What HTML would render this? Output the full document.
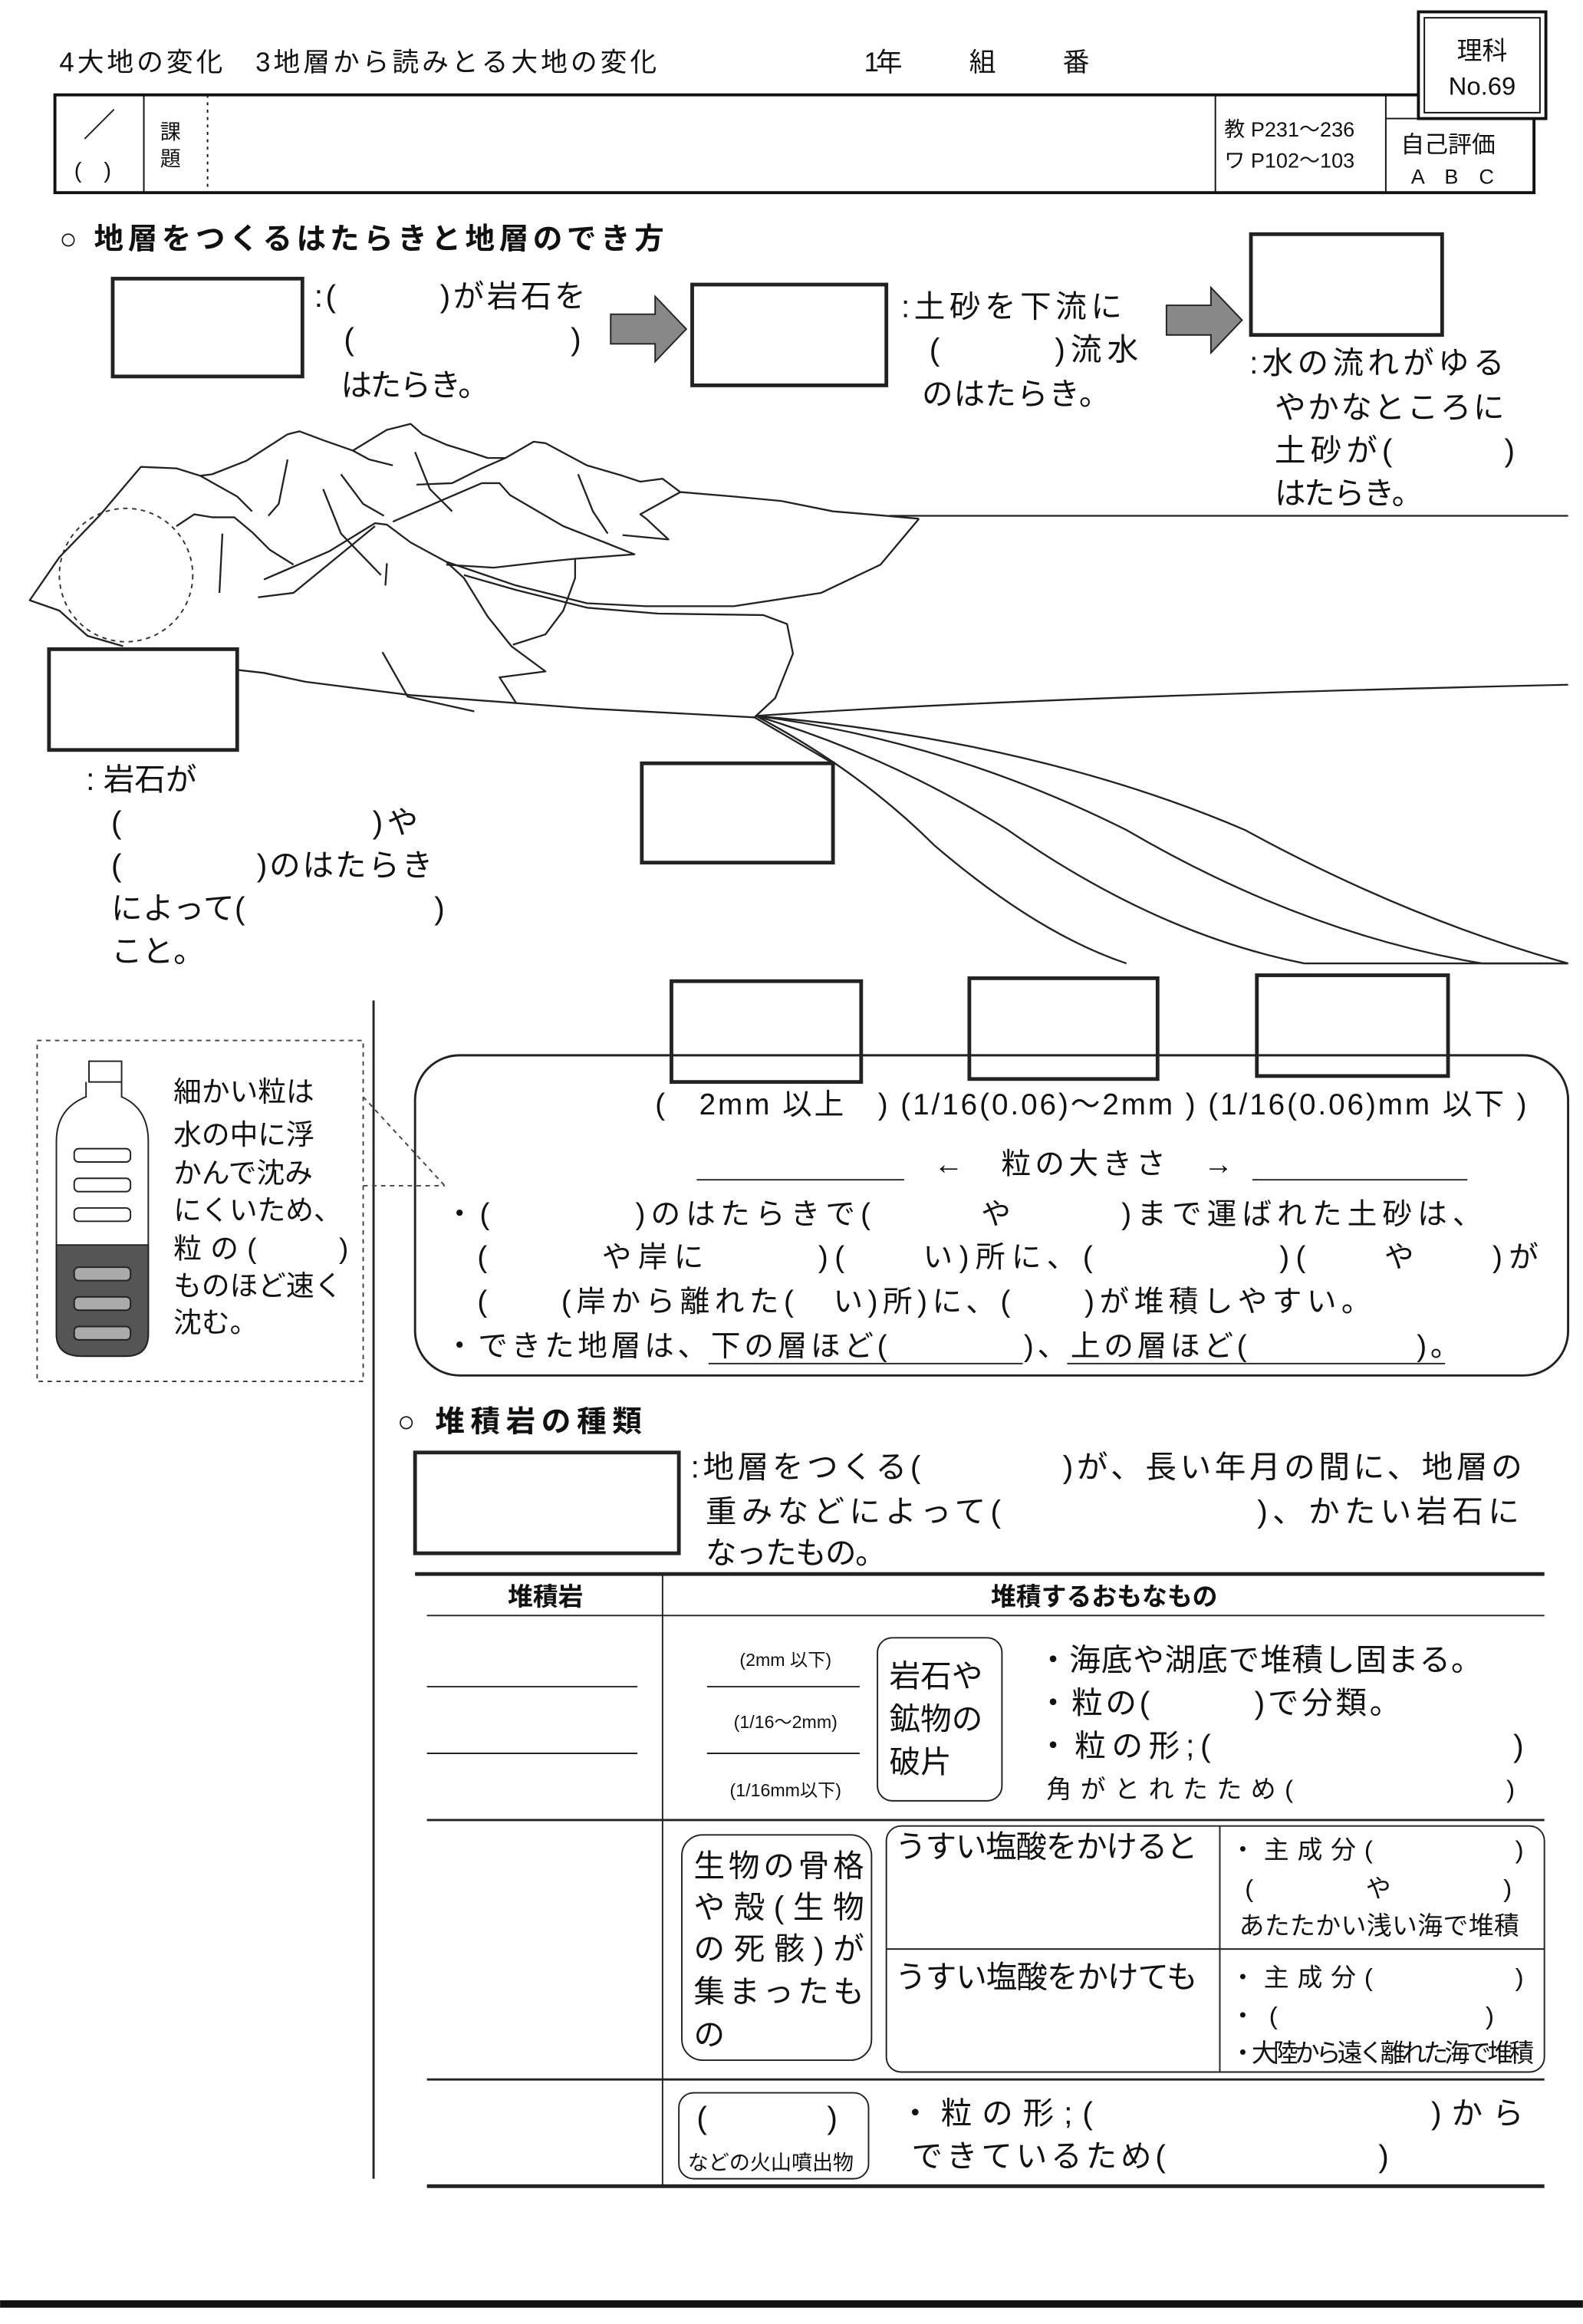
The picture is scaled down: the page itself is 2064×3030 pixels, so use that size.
<!DOCTYPE html>
<html><head><meta charset="utf-8"><style>
html,body{margin:0;padding:0;background:#fff}
svg{display:block}
text{font-family:"Liberation Sans","Noto Sans CJK JP",sans-serif;fill:#111}
</style></head><body>
<svg width="2064" height="3030" viewBox="0 0 1068 1568" xmlns="http://www.w3.org/2000/svg">
<rect width="1068" height="1568" fill="#fff"/>
<g font-size="18">
<text x="40" y="48" textLength="403" lengthAdjust="spacing">4大地の変化　3地層から読みとる大地の変化</text>
<text x="583" y="48" textLength="152" lengthAdjust="spacing">1年　　　組　　　番</text>
</g>
<rect x="957" y="8" width="86" height="72" fill="#fff" stroke="#111" stroke-width="2"/>
<rect x="961" y="12" width="78" height="64" fill="none" stroke="#111" stroke-width="1"/>
<text x="1000" y="40" font-size="17" text-anchor="middle" font-family="Liberation Serif,Noto Serif CJK SC,serif">理科</text>
<text x="1000" y="64" font-size="17" text-anchor="middle" font-family="Liberation Serif,Noto Serif CJK SC,serif">No.69</text>
<g stroke="#111" fill="none">
<path d="M957 64 H37 V130 H1035 V80" stroke-width="2"/>
<line x1="97" y1="64" x2="97" y2="130"/>
<line x1="140" y1="64" x2="140" y2="130" stroke-dasharray="2,3"/>
<line x1="820" y1="64" x2="820" y2="130"/>
<line x1="935" y1="64" x2="935" y2="130"/>
<line x1="935" y1="80" x2="957" y2="80"/>
</g>
<text x="56" y="92" font-size="22">／</text>
<text x="50" y="120" font-size="15">(　)</text>
<text x="108" y="94" font-size="14">課</text>
<text x="108" y="112" font-size="14">題</text>
<text x="826" y="92" font-size="14">教 P231〜236</text>
<text x="826" y="113" font-size="14">ワ P102〜103</text>
<text x="945" y="103" font-size="16">自己評価</text>
<text x="952" y="124" font-size="14">A　B　C</text>

<text x="40" y="168" font-size="20" font-weight="bold" textLength="408" lengthAdjust="spacing">○ 地層をつくるはたらきと地層のでき方</text>
<g stroke="#222" stroke-width="2.5" fill="#fff">
<rect x="76" y="188" width="128" height="66"/>
<rect x="467" y="192" width="131" height="68"/>
<rect x="844" y="158" width="129" height="68"/>
<rect x="33" y="438" width="127" height="68"/>
<rect x="433" y="515" width="129" height="67"/>
<rect x="453" y="662" width="128" height="68"/>
<rect x="654" y="660" width="127" height="68"/>
<rect x="848" y="658" width="129" height="68"/>
<rect x="280" y="980" width="178" height="68"/>
</g>
<g fill="#888" stroke="#222" stroke-width="1">
<path d="M412 212 H442 V200 L463 222 L442 244 V232 H412 Z"/>
<path d="M787 206 H817 V194 L838 216 L817 238 V226 H787 Z"/>
</g>
<g font-size="21">
<text x="212" y="207" textLength="183" lengthAdjust="spacing">:(　　　)が岩石を</text>
<text x="232" y="236" textLength="160" lengthAdjust="spacing">(　　　　　　　)</text>
<text x="230" y="267" textLength="100" lengthAdjust="spacing">はたらき。</text>
<text x="608" y="214" textLength="149" lengthAdjust="spacing">:土砂を下流に</text>
<text x="627" y="243" textLength="141" lengthAdjust="spacing">(　　　)流水</text>
<text x="622" y="273" textLength="127" lengthAdjust="spacing">のはたらき。</text>
<text x="843" y="252" textLength="172" lengthAdjust="spacing">:水の流れがゆる</text>
<text x="860" y="282" textLength="155" lengthAdjust="spacing">やかなところに</text>
<text x="860" y="311" textLength="162" lengthAdjust="spacing">土砂が(　　　)</text>
<text x="860" y="340" textLength="100" lengthAdjust="spacing">はたらき。</text>
<text x="58" y="533">: 岩石が</text>
<text x="75" y="562" textLength="207" lengthAdjust="spacing">(　　　　　　　)や</text>
<text x="75" y="591" textLength="217" lengthAdjust="spacing">(　　　　)のはたらき</text>
<text x="75" y="620" textLength="225" lengthAdjust="spacing">によって(　　　　　　)</text>
<text x="75" y="649">こと。</text>
</g>
<!-- landscape -->
<g stroke="#222" stroke-width="1.2" fill="none" stroke-linejoin="round">
<path d="M83 436 L59 429 L40 412 L20 405 L40 376 L67 348 L95 315 L119 316 L135 321 L160 335 L170 345"/>
<path d="M135 321 L143 320 L166 311 L194 293 L202 291 L218 297 L238 304 L249 310 L265 314"/>
<path d="M238 304 L261 290 L277 286 L285 293 L301 300 L317 305 L329 309 L341 309"/>
<path d="M281 327 L305 326 L325 316 L341 309 L360 298 L368 299 L396 314 L420 321 L432 325 L447 323 L459 332 L495 335 L527 338 L562 345 L586 347 L620 350"/>
<path d="M620 350 L594 381 L554 400 L495 409 L436 409 L396 407 L348 395 L301 379"/>
<path d="M313 388 L348 398 L396 410 L444 414 L515 415 L531 421 L535 441 L523 471 L509 484"/>
<path d="M160 452 L178 454 L206 460 L277 469 L396 478 L509 484 L562 515"/>
<path d="M119 355 L131 347 L143 349 L158 349 L170 359 L182 371 L198 381"/>
<path d="M178 391 L222 372 L253 353 L261 354 L277 366 L301 379"/>
<path d="M174 403 L198 400 L253 355"/>
<path d="M301 379 L313 390 L329 416 L345 436 L368 453 L337 457 L348 474"/>
<path d="M325 326 L337 326 L344 334 L380 355 L408 366 L428 374 L388 377 L368 379 L333 383 L301 381"/>
<path d="M265 352 L297 338 L325 326"/>
<path d="M420 361 L451 364 L436 350 L432 347 L459 332"/>
<path d="M388 377 L388 390 L380 412 L368 428 L346 435"/>
<path d="M194 310 L188 340 L181 348"/>
<path d="M218 330 L230 360 L257 388"/>
<path d="M258 440 L275 470 L320 480"/>
<path d="M261 380 L260 395"/>
<path d="M150 360 L148 400"/>
<path d="M280 305 L290 330 L305 345"/>
<path d="M390 320 L400 345 L410 360"/>
<path d="M230 320 L245 340 L259 348"/>
<path d="M510 483 Q700 470 1058 462"/>
<path d="M600 348 L1058 348"/>
<path d="M510 483 Q700 500 840 560 Q950 620 1058 650"/>
<path d="M510 483 Q640 500 760 560 Q880 630 1000 650 L1058 650"/>
<path d="M510 483 Q600 510 680 560 Q780 630 880 650"/>
<path d="M510 483 Q580 520 630 570 Q700 630 760 650"/>
<path d="M880 650 L1058 650"/>
</g>
<circle cx="85" cy="388" r="45" fill="none" stroke="#333" stroke-dasharray="3,3"/>
<line x1="252" y1="675" x2="252" y2="1470" stroke="#222" stroke-width="1.5"/>
<!-- grain panel -->
<rect x="280" y="712" width="778" height="216" rx="30" fill="none" stroke="#222" stroke-width="1.5"/>
<g font-size="20">
<text x="442" y="752" textLength="588" lengthAdjust="spacing">(　2mm 以上　) (1/16(0.06)〜2mm ) (1/16(0.06)mm 以下 )</text>
<text x="630" y="792" textLength="202" lengthAdjust="spacing">←　粒の大きさ　→</text>
<text x="300" y="826" textLength="700" lengthAdjust="spacing">・(　　　　)のはたらきで(　　　や　　　)まで運ばれた土砂は、</text>
<text x="322" y="855" textLength="716" lengthAdjust="spacing">(　　　や岸に　　　)(　　い)所に、(　　　　　)(　　や　　)が</text>
<text x="322" y="885" textLength="603" lengthAdjust="spacing">(　　(岸から離れた(　い)所)に、(　　)が堆積しやすい。</text>
<text x="300" y="915" textLength="685" lengthAdjust="spacing">・できた地層は、下の層ほど(　　　　)、上の層ほど(　　　　　)。</text>
</g>
<g stroke="#222"><line x1="470" y1="796" x2="610" y2="796"/><line x1="845" y1="796" x2="990" y2="796"/>
<line x1="478" y1="920" x2="690" y2="920"/><line x1="720" y1="920" x2="975" y2="920"/></g>
<!-- bottle -->
<rect x="25" y="702" width="220" height="230" fill="none" stroke="#444" stroke-dasharray="3,3"/>
<path d="M245 740 L300 800 M245 800 L300 800" stroke="#444" stroke-dasharray="3,3" fill="none"/>
<g stroke="#222" fill="none">
<rect x="60" y="716" width="22" height="14"/>
<path d="M58 730 L58 740 Q38 748 38 770 L38 900 Q38 915 55 915 L85 915 Q100 915 100 900 L100 770 Q100 748 82 740 L82 730"/>
<path d="M38 840 H100 V900 Q100 915 85 915 H55 Q38 915 38 900 Z" fill="#555"/>
<rect x="50" y="775" width="38" height="9" rx="3"/><rect x="50" y="795" width="38" height="9" rx="3"/><rect x="50" y="815" width="38" height="9" rx="3"/>
<rect x="50" y="855" width="38" height="9" rx="3" fill="#aaa"/><rect x="50" y="875" width="38" height="9" rx="3" fill="#aaa"/><rect x="50" y="895" width="38" height="9" rx="3" fill="#aaa"/>
</g>
<g font-size="19">
<text x="117" y="743">細かい粒は</text><text x="117" y="772">水の中に浮</text><text x="117" y="798">かんで沈み</text><text x="117" y="823">にくいため、</text><text x="117" y="849" textLength="118" lengthAdjust="spacing">粒の(　　)</text><text x="117" y="874">ものほど速く</text><text x="117" y="899">沈む。</text>
</g>
<!-- section 2 -->
<text x="268" y="966" font-size="20" font-weight="bold" textLength="165" lengthAdjust="spacing">○ 堆積岩の種類</text>
<g font-size="21">
<text x="466" y="997" textLength="561" lengthAdjust="spacing">:地層をつくる(　　　　)が、長い年月の間に、地層の</text>
<text x="476" y="1027" textLength="549" lengthAdjust="spacing">重みなどによって(　　　　　　　)、かたい岩石に</text>
<text x="476" y="1055" textLength="122" lengthAdjust="spacing">なったもの。</text>
</g>
<g stroke="#222" fill="none">
<line x1="280" y1="1062" x2="1042" y2="1062" stroke-width="2.5"/>
<line x1="288" y1="1090" x2="1042" y2="1090"/>
<line x1="447" y1="1062" x2="447" y2="1475"/>
<line x1="288" y1="1228" x2="1042" y2="1228" stroke-width="1.5"/>
<line x1="288" y1="1403" x2="1042" y2="1403" stroke-width="1.5"/>
<line x1="288" y1="1475" x2="1042" y2="1475" stroke-width="2.5"/>
<line x1="288" y1="1138" x2="430" y2="1138"/><line x1="288" y1="1183" x2="430" y2="1183"/>
<line x1="477" y1="1138" x2="580" y2="1138"/><line x1="477" y1="1183" x2="580" y2="1183"/>
<rect x="592" y="1105" width="84" height="110" rx="10"/>
<rect x="460" y="1238" width="128" height="152" rx="14"/>
<rect x="598" y="1232" width="444" height="166" rx="10"/>
<line x1="598" y1="1315" x2="1042" y2="1315"/>
<line x1="823" y1="1232" x2="823" y2="1398"/>
<rect x="458" y="1412" width="128" height="58" rx="10"/>
</g>
<g font-size="17" font-weight="bold" text-anchor="middle"><text x="368" y="1083">堆積岩</text><text x="745" y="1083">堆積するおもなもの</text></g>
<g font-size="12" text-anchor="middle"><text x="530" y="1124">(2mm 以下)</text><text x="530" y="1166">(1/16〜2mm)</text><text x="530" y="1212">(1/16mm以下)</text></g>
<g font-size="21">
<text x="600" y="1138">岩石や</text><text x="600" y="1167">鉱物の</text><text x="600" y="1196">破片</text>
<text x="700" y="1127" textLength="300" lengthAdjust="spacing">・海底や湖底で堆積し固まる。</text>
<text x="700" y="1156" textLength="245" lengthAdjust="spacing">・粒の(　　　)で分類。</text>
<text x="700" y="1185" textLength="328" lengthAdjust="spacing">・粒の形;(　　　　　　　　)</text>
<text x="468" y="1266" textLength="115" lengthAdjust="spacing">生物の骨格</text><text x="468" y="1294" textLength="115" lengthAdjust="spacing">や殻(生物</text><text x="468" y="1322" textLength="115" lengthAdjust="spacing">の死骸)が</text><text x="468" y="1351" textLength="115" lengthAdjust="spacing">集まったも</text><text x="468" y="1380">の</text>
<text x="604" y="1253" textLength="204" lengthAdjust="spacing">うすい塩酸をかけると</text>
<text x="604" y="1341" textLength="204" lengthAdjust="spacing">うすい塩酸をかけても</text>
<text x="607" y="1433" textLength="421" lengthAdjust="spacing">・粒の形;(　　　　　　　　)から</text>
<text x="615" y="1462" textLength="322" lengthAdjust="spacing">できているため(　　　　　　)</text>
<text x="470" y="1436" textLength="95" lengthAdjust="spacing">(　　　)</text>
</g>
<g font-size="17">
<text x="706" y="1213" textLength="316" lengthAdjust="spacing">角がとれたため(　　　　　　)</text>
<text x="830" y="1254" textLength="198" lengthAdjust="spacing">・主成分(　　　　)</text>
<text x="840" y="1280" textLength="180" lengthAdjust="spacing">(　　や　　)</text>
<text x="836" y="1305" textLength="189" lengthAdjust="spacing">あたたかい浅い海で堆積</text>
<text x="830" y="1340" textLength="198" lengthAdjust="spacing">・主成分(　　　　)</text>
<text x="830" y="1366" textLength="178" lengthAdjust="spacing">・(　　　　　)</text>
<text x="830" y="1391" textLength="205" lengthAdjust="spacing">・大陸から遠く離れた海で堆積</text>
<text x="464" y="1464" font-size="14">などの火山噴出物</text>
</g>
<rect x="0" y="1552" width="1068" height="5" fill="#111"/>
</svg>
</body></html>
